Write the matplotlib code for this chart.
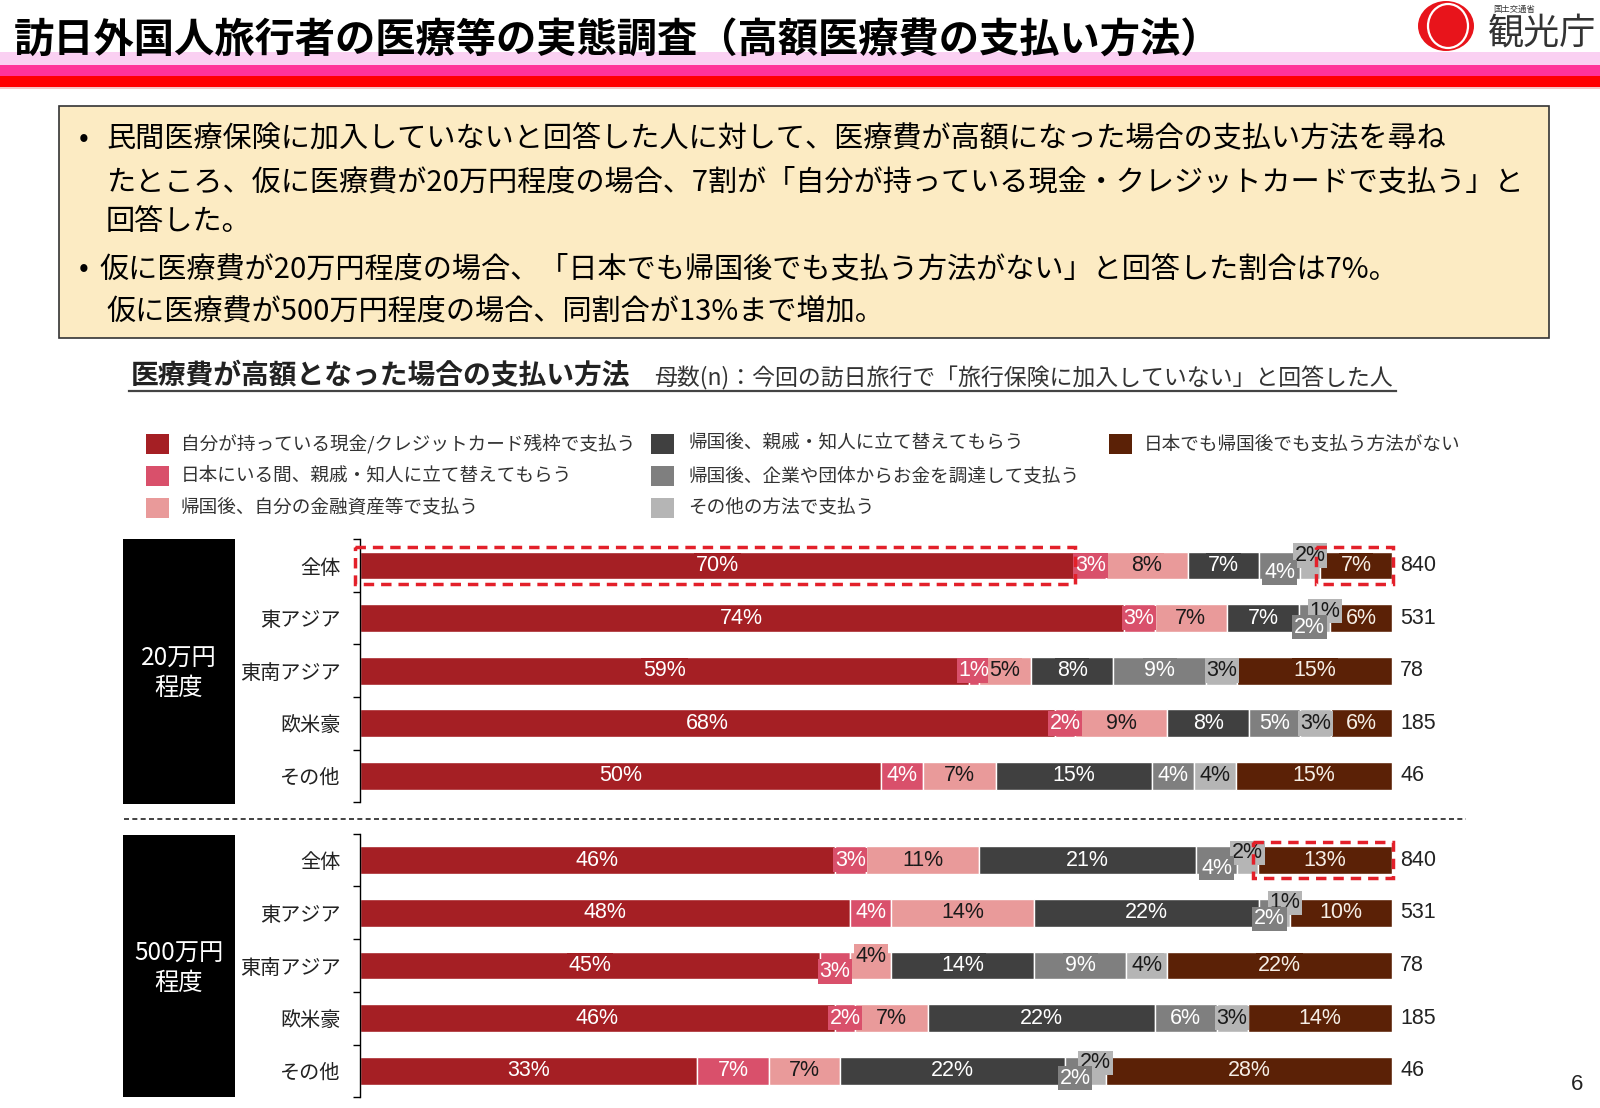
import numpy as np
import matplotlib.pyplot as plt
from matplotlib.patches import Rectangle, Ellipse
from matplotlib.lines import Line2D

plt.rcParams['font.family'] = ['Noto Sans CJK JP', 'DejaVu Sans']

W, H = 1600, 1108

# ---- data ----
methods = [
    "自分が持っている現金/クレジットカード残枠で支払う",
    "日本にいる間、親戚・知人に立て替えてもらう",
    "帰国後、自分の金融資産等で支払う",
    "帰国後、親戚・知人に立て替えてもらう",
    "帰国後、企業や団体からお金を調達して支払う",
    "その他の方法で支払う",
    "日本でも帰国後でも支払う方法がない",
]
colors = ["#A51F24", "#D9506B", "#E99A9A", "#404040", "#7F7F7F", "#B5B5B5", "#5B2106"]
text_colors = ["white", "white", "#1a1a1a", "white", "white", "#1a1a1a", "#F6EEE6"]

regions = ["全体", "東アジア", "東南アジア", "欧米豪", "その他"]
n_counts = [840, 531, 78, 185, 46]

pay_20man = [
    [70, 3, 8, 7, 4, 2, 7],
    [74, 3, 7, 7, 2, 1, 6],
    [59, 1, 5, 8, 9, 3, 15],
    [68, 2, 9, 8, 5, 3, 6],
    [50, 4, 7, 15, 4, 4, 15],
]
pay_500man = [
    [46, 3, 11, 21, 4, 2, 13],
    [48, 4, 14, 22, 2, 1, 10],
    [45, 3, 4, 14, 9, 4, 22],
    [46, 2, 7, 22, 6, 3, 14],
    [33, 7, 7, 22, 2, 2, 28],
]
group_names = ["20万円\n程度", "500万円\n程度"]

# label nudges for crowded small segments (px, + = down)
nudges = {
    (0, 0, 4): 7, (0, 0, 5): -10,
    (0, 1, 4): 9, (0, 1, 5): -7,
    (1, 0, 4): 8, (1, 0, 5): -7,
    (1, 1, 4): 6, (1, 1, 5): -10,
    (1, 2, 1): 6, (1, 2, 2): -9,
    (1, 4, 4): 7, (1, 4, 5): -8,
}
# highlighted segments (group, row, segment)
highlights = [(0, 0, 0), (0, 0, 6), (1, 0, 6)]


def fx(x):
    return x / W


def fy(y):
    return 1 - y / H


fig = plt.figure(figsize=(16, 11.08), dpi=100)


def px_rect(x0, y0, x1, y1, **kw):
    fig.add_artist(Rectangle((fx(x0), fy(y1)), fx(x1) - fx(x0), fy(y0) - fy(y1),
                             transform=fig.transFigure, **kw))


# ---- header ----
px_rect(0, 52, 1600, 65, fc="#FAD0F2", ec="none")
px_rect(0, 65, 1600, 76, fc="#FF3399", ec="none")
px_rect(0, 76, 1600, 87, fc="#FF0000", ec="none")
px_rect(0, 87, 1600, 89, fc="#F5C6C6", ec="none")
fig.text(fx(14), fy(41), "訪日外国人旅行者の医療等の実態調査（高額医療費の支払い方法）",
         fontsize=29, fontweight="bold", ha="left", va="center", color="black", zorder=5)

# logo
fig.add_artist(Ellipse((fx(1446), fy(26)), 56 / W, 50 / H, transform=fig.transFigure,
                       fc="#E8141B", ec="none"))
fig.add_artist(Ellipse((fx(1448), fy(26)), 40 / W, 44 / H, transform=fig.transFigure,
                       fc="none", ec="white", lw=1.6))
fig.text(fx(1493), fy(9), "国土交通省", fontsize=6, ha="left", va="center", color="#333")
fig.text(fx(1488), fy(34), "観光庁", fontsize=26, ha="left", va="center", color="#333")

# ---- info box ----
px_rect(59, 106, 1549, 338, fc="#FCEBC3", ec="#333333", lw=1.2)
info_lines = [
    (79, 139, "•"),
    (106, 139, "民間医療保険に加入していないと回答した人に対して、医療費が高額になった場合の支払い方法を尋ね"),
    (106, 182, "たところ、仮に医療費が20万円程度の場合、7割が「自分が持っている現金・クレジットカードで支払う」と"),
    (106, 222, "回答した。"),
    (79, 269, "•"),
    (99, 269, "仮に医療費が20万円程度の場合、「日本でも帰国後でも支払う方法がない」と回答した割合は7%。"),
    (106, 312, "仮に医療費が500万円程度の場合、同割合が13%まで増加。"),
]
for x, y, s in info_lines:
    fig.text(fx(x), fy(y), s, fontsize=21, ha="left", va="center", color="black")

# ---- chart subtitle ----
fig.text(fx(131), fy(376), "医療費が高額となった場合の支払い方法", fontsize=20,
         fontweight="bold", ha="left", va="center", color="#222")
fig.text(fx(654), fy(378), "母数(n)：今回の訪日旅行で「旅行保険に加入していない」と回答した人",
         fontsize=16.5, ha="left", va="center", color="#333")
fig.add_artist(Line2D([fx(129), fx(1396)], [fy(391), fy(391)], transform=fig.transFigure,
                      color="#444", lw=1.6))

# ---- legend ----
leg_sq_x = [146, 651, 1109]
leg_tx_x = [181, 688, 1144]
leg_y = [444, 476, 508]
for k, (lab, col) in enumerate(zip(methods, colors)):
    c, r = k // 3, k % 3
    px_rect(leg_sq_x[c], leg_y[r] - 10, leg_sq_x[c] + 23, leg_y[r] + 10, fc=col, ec="none")
    fig.text(fx(leg_tx_x[c]), fy(leg_y[r]), lab, fontsize=13.4, ha="left", va="center", color="#333")

# ---- bars ----
group_geo = [(565.5, 52.6, 539, 804), (860, 52.75, 835, 1097)]
for g, (data, gname) in enumerate(zip([pay_20man, pay_500man], group_names)):
    c0, step, bx0, bx1 = group_geo[g]
    top = c0 - step / 2
    bottom = c0 + step * 4.5
    ax = fig.add_axes([fx(360), fy(bottom), fx(1392) - fx(360), (bottom - top) / H])
    ax.set_xlim(0, 100)
    ax.set_ylim(4.5, -0.5)

    for i, row in enumerate(data):
        row = np.array(row, dtype=float)
        widths = row / row.sum() * 100
        left = 0.0
        for j, (v, w) in enumerate(zip(data[i], widths)):
            ax.barh(i, w, left=left, height=0.53, color=colors[j], edgecolor="white", lw=1)
            dy = nudges.get((g, i, j), 0)
            ax.annotate(f"{v}%", xy=(left + w / 2, i), xytext=(0, -dy * 0.72),
                        textcoords="offset points", ha="center", va="center",
                        fontsize=15.5, color=text_colors[j],
                        family=["Liberation Sans", "DejaVu Sans"],
                        bbox=dict(boxstyle="square,pad=0.08", fc=colors[j], ec="none"),
                        zorder=6 if dy > 0 else 5)
            if (g, i, j) in highlights:
                x0 = left - 0.45
                x1 = left + w + (0.1 if j == 6 else 0.0)
                ax.add_patch(Rectangle((x0, -0.35), x1 - x0, 0.7, fill=False, ec="#E3202A",
                                       ls=(0, (3, 2)), lw=2.5, clip_on=False, zorder=8))
            left += w
        ax.text(100.8, i, str(n_counts[i]), ha="left", va="center", fontsize=15.5,
                color="#222", family=["Liberation Sans", "DejaVu Sans"])

    ax.set_xticks([])
    ax.set_yticks(range(len(regions)))
    ax.set_yticklabels(regions, fontsize=14.5, color="#222")
    ax.set_yticks(np.arange(-0.5, 5, 1), minor=True)
    ax.tick_params(axis="y", which="major", length=0, pad=14)
    ax.tick_params(axis="y", which="minor", length=5, width=1, color="black")
    for sp in ["top", "right", "bottom"]:
        ax.spines[sp].set_visible(False)
    ax.spines["left"].set_color("black")
    ax.spines["left"].set_linewidth(1)
    ax.patch.set_alpha(0)

    # group box
    px_rect(123, bx0, 235, bx1, fc="black", ec="none")
    fig.text(fx(179), fy((bx0 + bx1) / 2 + 2), gname, fontsize=17.5, color="white",
             ha="center", va="center", linespacing=1.15)

# separator
fig.add_artist(Line2D([fx(124), fx(1466)], [fy(819), fy(819)], transform=fig.transFigure,
                      color="#222", lw=1.2, ls=(0, (3, 2))))

# page number
fig.text(fx(1577), fy(1084), "6", fontsize=16, ha="center", va="center",
         family=["Liberation Sans", "DejaVu Sans"], color="#222")

fig.savefig("out.png", dpi=100, facecolor="white")
